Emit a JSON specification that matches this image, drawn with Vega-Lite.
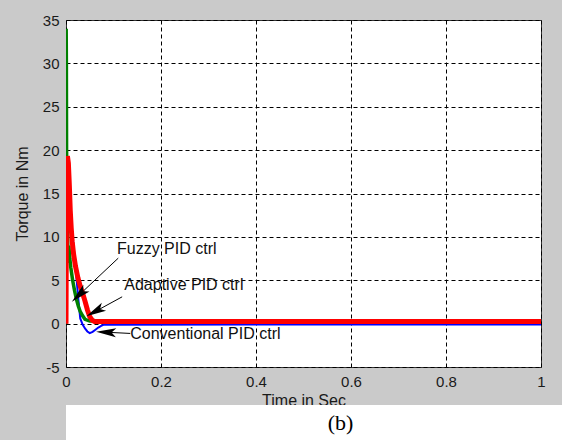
{
  "$schema": "https://vega.github.io/schema/vega-lite/v6.json",
  "background": "#cacaca",
  "padding": {"left": 13, "top": 12, "right": 0, "bottom": 0},
  "columns": 1,
  "align": "none",
  "spacing": -4,
  "datasets": {
    "curves": [
      {"series": "Conventional", "t": 0, "v": 0},
      {"series": "Conventional", "t": 0.0006, "v": 17.6},
      {"series": "Conventional", "t": 0.002, "v": 15},
      {"series": "Conventional", "t": 0.004, "v": 13.5},
      {"series": "Conventional", "t": 0.006, "v": 12.8},
      {"series": "Conventional", "t": 0.0095, "v": 12.3},
      {"series": "Conventional", "t": 0.011, "v": 11},
      {"series": "Conventional", "t": 0.014, "v": 10},
      {"series": "Conventional", "t": 0.018, "v": 7.8},
      {"series": "Conventional", "t": 0.022, "v": 5.3},
      {"series": "Conventional", "t": 0.026, "v": 2.8},
      {"series": "Conventional", "t": 0.03, "v": 0.6},
      {"series": "Conventional", "t": 0.035, "v": -0.1},
      {"series": "Conventional", "t": 0.04, "v": -0.55},
      {"series": "Conventional", "t": 0.045, "v": -0.9},
      {"series": "Conventional", "t": 0.05, "v": -1.1},
      {"series": "Conventional", "t": 0.056, "v": -0.95},
      {"series": "Conventional", "t": 0.062, "v": -0.7},
      {"series": "Conventional", "t": 0.068, "v": -0.45},
      {"series": "Conventional", "t": 0.074, "v": -0.25},
      {"series": "Conventional", "t": 0.08, "v": -0.12},
      {"series": "Conventional", "t": 1, "v": -0.1},
      {"series": "Fuzzy", "t": 0, "v": 0},
      {"series": "Fuzzy", "t": 0.0004, "v": 34},
      {"series": "Fuzzy", "t": 0.0008, "v": 30},
      {"series": "Fuzzy", "t": 0.0012, "v": 20},
      {"series": "Fuzzy", "t": 0.002, "v": 17},
      {"series": "Fuzzy", "t": 0.003, "v": 12},
      {"series": "Fuzzy", "t": 0.004, "v": 8},
      {"series": "Fuzzy", "t": 0.005, "v": 7},
      {"series": "Fuzzy", "t": 0.006, "v": 9},
      {"series": "Fuzzy", "t": 0.008, "v": 7.5},
      {"series": "Fuzzy", "t": 0.01, "v": 6.5},
      {"series": "Fuzzy", "t": 0.014, "v": 5},
      {"series": "Fuzzy", "t": 0.018, "v": 3.8},
      {"series": "Fuzzy", "t": 0.022, "v": 2.8},
      {"series": "Fuzzy", "t": 0.026, "v": 2},
      {"series": "Fuzzy", "t": 0.03, "v": 1.4},
      {"series": "Fuzzy", "t": 0.035, "v": 0.9},
      {"series": "Fuzzy", "t": 0.04, "v": 0.5},
      {"series": "Fuzzy", "t": 0.05, "v": 0.3},
      {"series": "Fuzzy", "t": 1, "v": 0.25},
      {"series": "Adaptive", "t": 0, "v": 0},
      {"series": "Adaptive", "t": 0.0008, "v": 12},
      {"series": "Adaptive", "t": 0.003, "v": 19.3},
      {"series": "Adaptive", "t": 0.005, "v": 18.5},
      {"series": "Adaptive", "t": 0.007, "v": 16},
      {"series": "Adaptive", "t": 0.009, "v": 13},
      {"series": "Adaptive", "t": 0.011, "v": 11},
      {"series": "Adaptive", "t": 0.013, "v": 9.5},
      {"series": "Adaptive", "t": 0.016, "v": 8},
      {"series": "Adaptive", "t": 0.02, "v": 6.6},
      {"series": "Adaptive", "t": 0.025, "v": 5.3},
      {"series": "Adaptive", "t": 0.03, "v": 4.3},
      {"series": "Adaptive", "t": 0.035, "v": 3.5},
      {"series": "Adaptive", "t": 0.04, "v": 2.6},
      {"series": "Adaptive", "t": 0.045, "v": 1.6},
      {"series": "Adaptive", "t": 0.05, "v": 0.8},
      {"series": "Adaptive", "t": 0.055, "v": 0.4},
      {"series": "Adaptive", "t": 0.06, "v": 0.25},
      {"series": "Adaptive", "t": 1, "v": 0.25}
    ],
    "arrows": [
      {"label": "Fuzzy PID ctrl", "t": 0.110, "v": 7.55, "t2": 0.0276, "v2": 3.30, "angle": 226.8},
      {"label": "Adaptive PID ctrl", "t": 0.1182, "v": 3.09, "t2": 0.0614, "v2": 1.39, "angle": 241.3},
      {"label": "Conventional PID ctrl", "t": 0.1353, "v": -1.13, "t2": 0.0844, "v2": -0.99, "angle": 272.9}
    ],
    "notes": [
      {"label": "Fuzzy PID ctrl", "t": 0.1073, "v": 8.58},
      {"label": "Adaptive PID ctrl", "t": 0.1227, "v": 4.44},
      {"label": "Conventional PID ctrl", "t": 0.1353, "v": -1.24}
    ],
    "caption": [{"text": "(b)"}]
  },
  "concat": [
    {
      "width": 475,
      "height": 347,
      "view": {"stroke": "#333333", "strokeWidth": 1, "fill": "white"},
      "layer": [
        {
          "data": {"name": "curves"},
          "transform": [{"filter": "datum.series === 'Conventional'"}],
          "mark": {"type": "line", "color": "#0000ff", "strokeWidth": 2, "clip": true},
          "encoding": {
            "x": {
              "field": "t", "type": "quantitative",
              "scale": {"domain": [0, 1], "nice": false, "zero": false},
              "axis": {
                "title": "Time in Sec", "values": [0, 0.2, 0.4, 0.6, 0.8, 1], "labelExpr": "datum.value + ''",
                "grid": true, "gridDash": [4, 3], "gridColor": "#000000", "gridOpacity": 1, "gridWidth": 1,
                "ticks": false, "domain": false, "labelFlush": false,
                "labelFont": "Liberation Sans", "labelFontSize": 15, "labelColor": "#1a1a1a", "labelPadding": 7,
                "titleFont": "Liberation Sans", "titleFontSize": 16, "titleFontWeight": "normal", "titleColor": "#1a1a1a", "titlePadding": 3
              }
            },
            "y": {
              "field": "v", "type": "quantitative",
              "scale": {"domain": [-5, 35], "nice": false, "zero": false},
              "axis": {
                "title": "Torque in Nm", "values": [-5, 0, 5, 10, 15, 20, 25, 30, 35], "labelExpr": "datum.value + ''",
                "grid": true, "gridDash": [4, 3], "gridColor": "#000000", "gridOpacity": 1, "gridWidth": 1,
                "ticks": false, "domain": false, "labelFlush": false,
                "labelFont": "Liberation Sans", "labelFontSize": 15, "labelColor": "#1a1a1a", "labelPadding": 7,
                "titleFont": "Liberation Sans", "titleFontSize": 16, "titleFontWeight": "normal", "titleColor": "#1a1a1a", "titlePadding": 12
              }
            }
          }
        },
        {
          "data": {"name": "curves"},
          "transform": [{"filter": "datum.series === 'Fuzzy'"}],
          "mark": {"type": "line", "color": "#008000", "strokeWidth": 3.5, "clip": true},
          "encoding": {
            "x": {"field": "t", "type": "quantitative"},
            "y": {"field": "v", "type": "quantitative"}
          }
        },
        {
          "data": {"name": "curves"},
          "transform": [{"filter": "datum.series === 'Adaptive'"}],
          "mark": {"type": "line", "color": "#ff0000", "strokeWidth": 5, "clip": true},
          "encoding": {
            "x": {"field": "t", "type": "quantitative"},
            "y": {"field": "v", "type": "quantitative"}
          }
        },
        {
          "data": {"name": "arrows"},
          "mark": {"type": "rule", "color": "#000000", "strokeWidth": 1},
          "encoding": {
            "x": {"field": "t", "type": "quantitative"},
            "y": {"field": "v", "type": "quantitative"},
            "x2": {"field": "t2"},
            "y2": {"field": "v2"}
          }
        },
        {
          "data": {"name": "arrows"},
          "mark": {"type": "point", "shape": "M0,-1L0.45,1L0,0.55L-0.45,1Z", "filled": true, "color": "#000000", "opacity": 1, "size": 400},
          "encoding": {
            "x": {"field": "t2", "type": "quantitative"},
            "y": {"field": "v2", "type": "quantitative"},
            "angle": {"field": "angle", "type": "quantitative", "scale": null}
          }
        },
        {
          "data": {"name": "notes"},
          "mark": {"type": "text", "align": "left", "baseline": "middle", "font": "Liberation Sans", "fontSize": 16, "color": "#111111"},
          "encoding": {
            "x": {"field": "t", "type": "quantitative"},
            "y": {"field": "v", "type": "quantitative"},
            "text": {"field": "label"}
          }
        }
      ]
    },
    {
      "width": 549,
      "height": 35,
      "view": {"fill": "white", "stroke": null},
      "data": {"name": "caption"},
      "mark": {"type": "text", "font": "Liberation Serif", "fontSize": 22, "color": "#000000", "baseline": "middle", "align": "center"},
      "encoding": {"text": {"field": "text"}}
    }
  ]
}
